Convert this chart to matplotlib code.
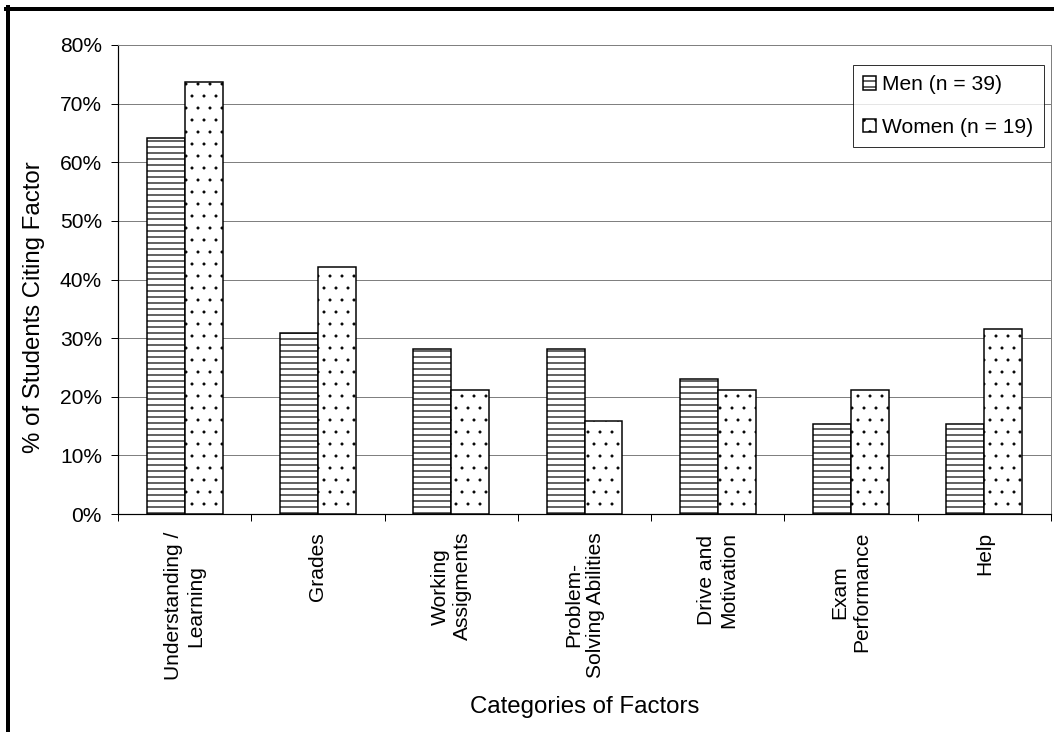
import numpy as np
import matplotlib
matplotlib.use("Agg")
import matplotlib.pyplot as plt
from matplotlib.lines import Line2D
from matplotlib.ticker import FuncFormatter

plt.rcParams["font.family"] = ["Liberation Sans", "DejaVu Sans"]
plt.rcParams["hatch.linewidth"] = 1.2

categories = ["Understanding /\nLearning", "Grades", "Working\nAssigments",
              "Problem-\nSolving Abilities", "Drive and\nMotivation",
              "Exam\nPerformance", "Help"]
men = [64.1, 30.8, 28.2, 28.2, 23.1, 15.4, 15.4]
women = [73.7, 42.1, 21.1, 15.8, 21.1, 21.1, 31.6]
yticks = [0, 10, 20, 30, 40, 50, 60, 70, 80]

W, H = 1054, 732
dpi = 72
fig = plt.figure(figsize=(W / dpi, H / dpi), dpi=dpi)
ax = fig.add_axes([118 / W, 1 - 514 / H, (1051 - 118) / W, (514 - 45) / H])

x = np.arange(len(categories))
bw = 0.285
ax.bar(x - bw / 2, men, bw, color="white", edgecolor="black", linewidth=1.5,
       hatch="--", label="Men (n = 39)", zorder=3)
with plt.rc_context({"hatch.linewidth": 0.5}):
    wbars = ax.bar(x + bw / 2, women, bw, color="white", edgecolor="black",
                   linewidth=1.5, hatch=".", label="Women (n = 19)", zorder=3)
for b in wbars:
    if hasattr(b, "set_hatch_linewidth"):
        b.set_hatch_linewidth(0.5)

ax.set_xlim(-0.5, len(categories) - 0.5)
ax.set_ylim(0, 80)
ax.set_yticks(yticks)
ax.yaxis.set_major_formatter(FuncFormatter(lambda v, p: f"{v:.0f}%"))
ax.yaxis.grid(True, color="#808080", linewidth=1, zorder=0)
ax.set_axisbelow(True)

ax.set_xticks(x)
ax.set_xticklabels(categories, rotation=90, ha="center", va="top",
                   multialignment="center", fontsize=21)
ax.set_xticks(np.arange(len(categories) + 1) - 0.5, minor=True)
ax.tick_params(axis="x", which="major", length=0, pad=18)
ax.tick_params(axis="x", which="minor", length=7, width=1, direction="out")
ax.tick_params(axis="y", length=7, width=1, direction="out", labelsize=21, pad=9)

for s in ["top", "right"]:
    ax.spines[s].set_color("#808080")
    ax.spines[s].set_linewidth(1)
for s in ["left", "bottom"]:
    ax.spines[s].set_color("black")
    ax.spines[s].set_linewidth(1.2)

ax.set_xlabel("Categories of Factors", fontsize=24)
ax.xaxis.label.set_va("center")
ax.xaxis.set_label_coords(584.5 / W, 1 - 707 / H, transform=fig.transFigure)
ax.set_ylabel("% of Students Citing Factor", fontsize=24)
ax.yaxis.label.set_va("center")
ax.yaxis.set_label_coords(34 / W, 1 - 307 / H, transform=fig.transFigure)

leg = ax.legend(loc="upper right", bbox_to_anchor=(1044 / W, 1 - 65 / H),
                bbox_transform=fig.transFigure, borderaxespad=0, fontsize=21,
                frameon=True, fancybox=False, handlelength=0.6,
                handleheight=0.6, handletextpad=0.3, labelspacing=1.1,
                borderpad=0.5)
leg.get_frame().set_edgecolor("black")
leg.get_frame().set_linewidth(1)

# black frame on top and left of the figure
fig.add_artist(Line2D([6 / W, 1], [1 - 9 / H, 1 - 9 / H], color="black", linewidth=4,
                      transform=fig.transFigure))
fig.add_artist(Line2D([8 / W, 8 / W], [0, 1 - 7 / H], color="black", linewidth=4,
                      transform=fig.transFigure))

fig.savefig("out.png", dpi=dpi, facecolor="white")
